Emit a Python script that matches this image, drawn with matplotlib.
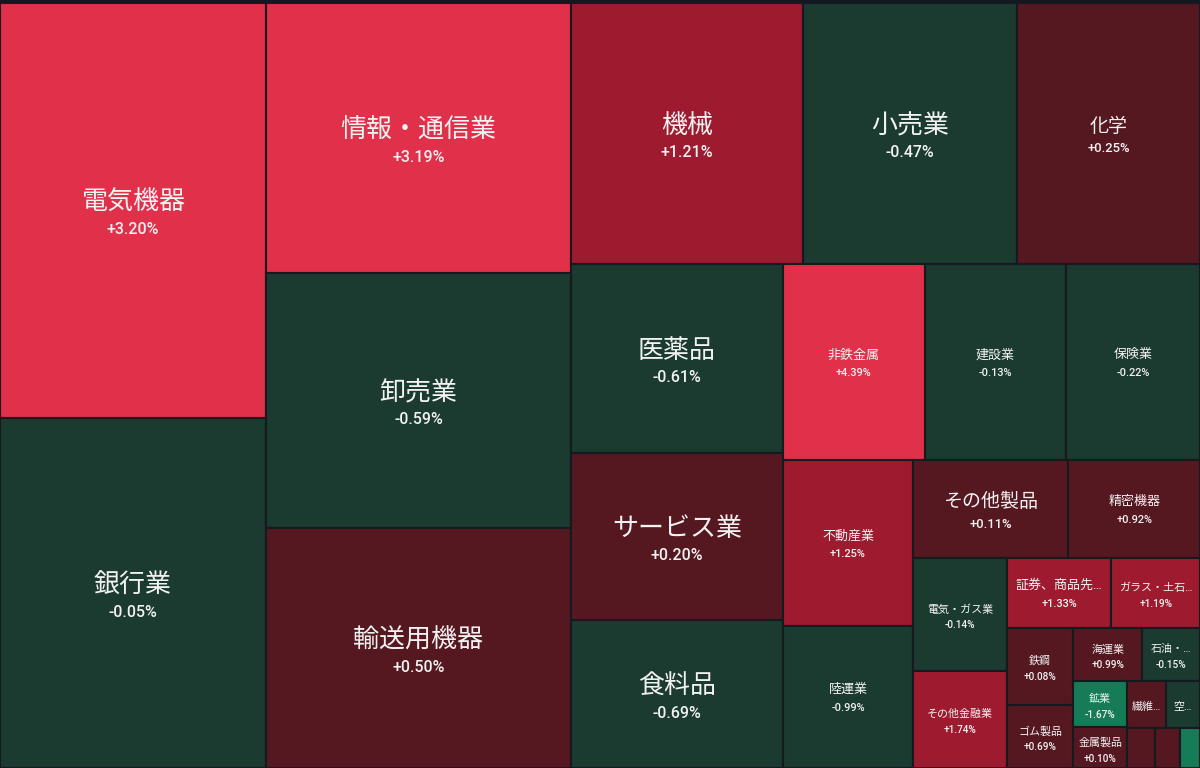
import matplotlib
matplotlib.use("Agg")
import matplotlib.pyplot as plt
from matplotlib.patches import Rectangle

# ── Data ──────────────────────────────────────────────────────────────────────
SECTORS = [
    "電気機器", "銀行業", "情報・通信業", "卸売業", "輸送用機器", "機械", "小売業", "化学",
    "医薬品", "サービス業", "食料品", "非鉄金属", "建設業", "保険業", "不動産業", "陸運業",
    "その他製品", "精密機器", "電気・ガス業", "その他金融業", "証券、商品先物取引業",
    "ガラス・土石製品", "鉄鋼", "ゴム製品", "海運業", "石油・石炭製品", "鉱業", "金属製品",
    "繊維製品", "空運業", "パルプ・紙", "倉庫・運輸関連業", "水産・農林業",
]
# relative market-cap weight -> tile area
WEIGHTS = [
    110.4, 93.1, 82.4, 77.8, 73.2, 60.6, 55.9, 47.8, 40.1, 35.4, 31.4, 27.8, 27.6, 26.3,
    21.6, 18.5, 15.2, 12.9, 10.6, 9.1, 7.3, 6.2, 5.1, 4.2, 3.7, 3.1, 2.5, 2.2,
    1.8, 1.6, 1.1, 1.0, 0.8,
]
# daily change, %
CHANGES = [
    3.20, -0.05, 3.19, -0.59, 0.50, 1.21, -0.47, 0.25, -0.61, 0.20, -0.69, 4.39, -0.13, -0.22,
    1.25, -0.99, 0.11, 0.92, -0.14, 1.74, 1.33, 1.19, 0.08, 0.69, 0.99, -0.15, -1.67, 0.10,
    0.35, -0.28, 0.45, 0.32, -1.20,
]

BG     = "#131722"
BORDER = "#16191e"
TXT    = "#f2f2f2"
W, H   = 1200, 768
TOP    = 3          # dark strip above the map


def tile_color(c):
    if c >= 2:
        return "#e0304a"
    if c >= 1:
        return "#9e1b2f"
    if c >= 0:
        return "#551820"
    if c > -1:
        return "#1b3a30"
    if c > -2:
        return "#167c58"
    return "#0fa070"


# ── Squarified treemap layout ─────────────────────────────────────────────────
def worst(row, short):
    s = sum(row)
    return max(max(s * s / (short * short * r), short * short * r / (s * s)) for r in row)


def squarify(areas, x, y, w, h):
    rects = []
    areas = list(areas)
    while areas:
        short = min(w, h)
        i = 1
        while i < len(areas) and worst(areas[:i + 1], short) <= worst(areas[:i], short):
            i += 1
        row, areas = areas[:i], areas[i:]
        s = sum(row)
        if w >= h:                       # column on the left
            cw = s / h
            yy = y
            for a in row:
                rects.append((x, yy, cw, a / cw))
                yy += a / cw
            x += cw
            w -= cw
        else:                            # row along the top
            rh = s / w
            xx = x
            for a in row:
                rects.append((xx, y, a / rh, rh))
                xx += a / rh
            y += rh
            h -= rh
    return rects


total = sum(WEIGHTS)
areas = [v / total * W * (H - TOP) for v in WEIGHTS]
rects = squarify(areas, 0, TOP, W, H - TOP)

# ── Draw ──────────────────────────────────────────────────────────────────────
fig = plt.figure(figsize=(12, 7.68), dpi=100, facecolor=BG)
ax = fig.add_axes([0, 0, 1, 1])
ax.set_xlim(0, W)
ax.set_ylim(H, 0)
ax.axis("off")

renderer = fig.canvas.get_renderer()
PX = 0.72  # px -> pt at 100 dpi
NAME_FONT = ["Roboto", "Noto Sans CJK JP", "DejaVu Sans"]
PCT_FONT = ["Roboto", "DejaVu Sans"]


def fit_text(ax, x, y, s, size, maxw, **kw):
    t = ax.text(x, y, s, fontsize=size, **kw)
    if t.get_window_extent(renderer).width <= maxw:
        return t
    for k in range(len(s) - 1, 0, -1):
        t.set_text(s[:k] + "…")
        if t.get_window_extent(renderer).width <= maxw:
            return t
    t.set_text("")
    return t


for name, chg, (x, y, w, h) in zip(SECTORS, CHANGES, rects):
    ax.add_patch(Rectangle((x, y), w, h, facecolor=tile_color(chg),
                           edgecolor=BORDER, linewidth=1.5))
    if w < 30:
        continue
    # font size (px) of name / percent, line spacing and vertical nudge by tile width
    if w >= 200:
        ns, ps, gap, off = 26, 16, 27, 4.5
    elif w >= 150:
        ns, ps, gap, off = 19, 13, 22, 3
    elif w >= 100:
        ns, ps, gap, off = 13, 11, 18, 1
    else:
        ns, ps, gap, off = 11, 10, 16, 2
    cx, cy = x + w / 2, y + h / 2 + off
    if w < 45:
        fit_text(ax, cx, cy, name, ns * PX, w - 8, color=TXT, ha="center",
                 va="center", family=NAME_FONT)
        continue
    fit_text(ax, cx, cy - gap * 0.45, name, ns * PX, w - 8, color=TXT,
             ha="center", va="center", family=NAME_FONT)
    ax.text(cx, cy + gap * 0.55, f"{chg:+.2f}%", fontsize=ps * PX, color=TXT,
            ha="center", va="center", family=PCT_FONT, fontweight="medium")

fig.savefig("out.png", dpi=100, facecolor=BG)
